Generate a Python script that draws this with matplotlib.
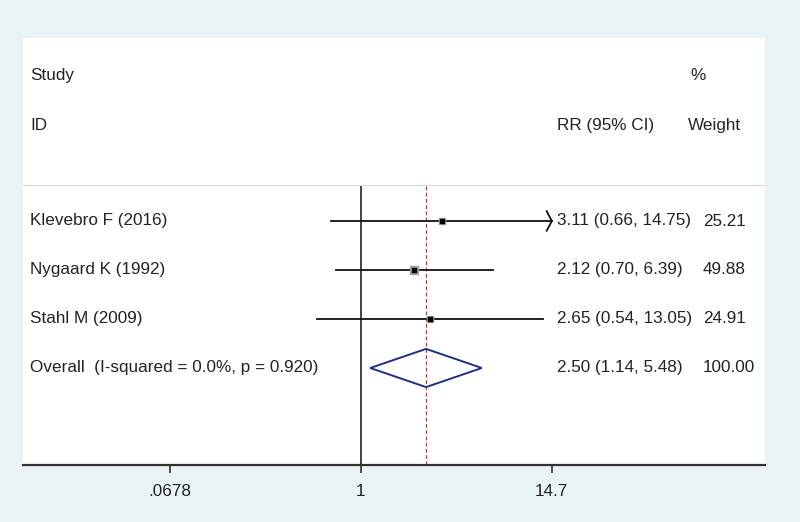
import numpy as np
import matplotlib.pyplot as plt

plt.rcParams['font.family'] = ['Liberation Sans', 'DejaVu Sans']

studies = ['Klevebro F (2016)', 'Nygaard K (1992)', 'Stahl M (2009)']
rr = [3.11, 2.12, 2.65]
lo = [0.66, 0.70, 0.54]
hi = [14.75, 6.39, 13.05]
weight = [25.21, 49.88, 24.91]

overall_label = 'Overall  (I-squared = 0.0%, p = 0.920)'
overall_rr, overall_lo, overall_hi = 2.50, 1.14, 5.48

xticks = [0.0678, 1, 14.7]
xticklabels = ['.0678', '1', '14.7']

bg = '#e9f3f6'
txt = '#222222'
fig = plt.figure(figsize=(8, 5.22), dpi=100, facecolor=bg)
ax = fig.add_axes([23 / 800, 57 / 522, 742 / 800, 427 / 522])
ax.set_facecolor('white')
ax.set_xscale('log')
ax.set_xlim(np.exp(-4.76), np.exp(5.69))
ax.set_ylim(4.98, -3.735)

tr = ax.get_yaxis_transform()
clip = xticks[-1]
fs = 12.3
x_lab = (30 - 23) / 742
x_rr = (557 - 23) / 742
x_w = (703 - 23) / 742

# study rows
for i, (name, r, l, h, w) in enumerate(zip(studies, rr, lo, hi, weight)):
    end = min(h, clip)
    ax.plot([l, end], [i, i], color='#111111', lw=1.3, zorder=3)
    if h > clip:
        ax.plot([end * 0.93, end, end * 0.93], [i - 0.2, i, i + 0.2],
                color='#111111', lw=1.3, zorder=3)
    ax.scatter([r], [i], marker='s', s=w * 0.6, color='#a0a0a0', zorder=4)
    ax.scatter([r], [i], marker='s', s=10, color='black', zorder=5)
    ax.text(x_lab, i, name, transform=tr, va='center', ha='left', fontsize=fs, color=txt)
    ax.text(x_rr, i, f'{r:.2f} ({l:.2f}, {h:.2f})', transform=tr,
            va='center', ha='left', fontsize=fs, color=txt)
    ax.text(x_w, i, f'{w:.2f}', transform=tr, va='center', ha='left', fontsize=fs, color=txt)

# overall diamond
k = len(studies)
ax.fill([overall_lo, overall_rr, overall_hi, overall_rr, overall_lo],
        [k, k - 0.39, k, k + 0.39, k], facecolor='none',
        edgecolor='#1f2f7f', lw=1.4, zorder=3)
ax.text(x_lab, k, overall_label, transform=tr, va='center', ha='left', fontsize=fs, color=txt)
ax.text(x_rr, k, f'{overall_rr:.2f} ({overall_lo:.2f}, {overall_hi:.2f})',
        transform=tr, va='center', ha='left', fontsize=fs, color=txt)
ax.text(x_w, k, f'{sum(weight):.2f}', transform=tr, va='center', ha='left', fontsize=fs, color=txt)

# reference lines
ax.plot([1, 1], [-0.71, 4.98], color='#333333', lw=1.3, zorder=2)
ax.plot([overall_rr, overall_rr], [-0.71, 4.98], color='#c83232',
        lw=0.9, ls=(0, (3, 2)), zorder=2)
ax.axhline(-0.735, color='#d8d8d8', lw=0.8)

# headers
ax.text(x_lab, -2.96, 'Study', transform=tr, va='center', ha='left', fontsize=fs, color=txt)
ax.text(x_lab, -1.94, 'ID', transform=tr, va='center', ha='left', fontsize=fs, color=txt)
ax.text(x_rr, -1.94, 'RR (95% CI)', transform=tr, va='center', ha='left', fontsize=fs, color=txt)
ax.text((690 - 23) / 742, -2.96, '%', transform=tr, va='center', ha='left', fontsize=fs, color=txt)
ax.text((688 - 23) / 742, -1.94, 'Weight', transform=tr, va='center', ha='left', fontsize=fs, color=txt)

# axes styling
for s in ['top', 'left', 'right']:
    ax.spines[s].set_visible(False)
ax.spines['bottom'].set_color('#333333')
ax.spines['bottom'].set_linewidth(1.6)
ax.set_yticks([])
ax.set_xticks(xticks)
ax.set_xticklabels(xticklabels, fontsize=fs, color=txt)
ax.xaxis.set_minor_locator(plt.NullLocator())
ax.tick_params(axis='x', length=6, width=1.2, color='#333333', pad=8)

fig.savefig('out.png', dpi=100, facecolor=bg)
